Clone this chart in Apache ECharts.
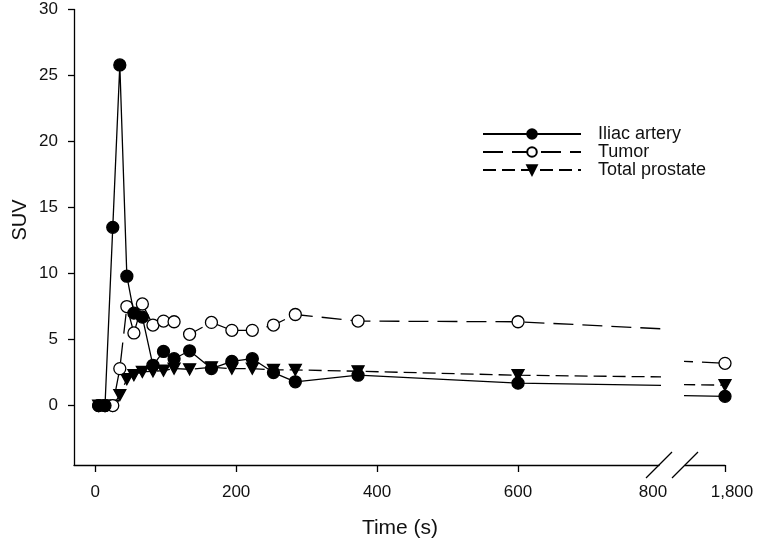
<!DOCTYPE html>
<html><head><meta charset="utf-8">
<script src="https://cdn.jsdelivr.net/npm/echarts@6/dist/echarts.min.js"></script>
<style>html,body{margin:0;padding:0;background:#fff}#c{width:757px;height:543px}</style>
</head><body><div id="c"></div>
<script>
// ---- data ----
const times = [5, 14, 25, 35, 45, 55, 67, 82, 97, 112, 134, 165, 194, 223, 253, 284, 373, 600, 1800];
const iliacArtery = [0, 0, 13.5, 25.8, 9.8, 7.0, 6.7, 3.05, 4.1, 3.55, 4.15, 2.8, 3.35, 3.55, 2.5, 1.8, 2.3, 1.7, 0.7];
const tumor = [0, 0, 0, 2.8, 7.5, 5.5, 7.7, 6.1, 6.4, 6.35, 5.4, 6.3, 5.7, 5.7, 6.1, 6.9, 6.4, 6.35, 3.2];
const totalProstate = [0, 0, 0, 0.8, 2.0, 2.3, 2.55, 2.6, 2.65, 2.8, 2.75, 2.9, 2.8, 2.8, 2.7, 2.7, 2.6, 2.3, 1.55];
const seriesNames = ['Iliac artery', 'Tumor', 'Total prostate'];
const xTickValues = [0, 200, 400, 600];
const xLabelValues = [0, 200, 400, 600, 800];
const xBreakValues = [1800];
const yTickValues = [0, 5, 10, 15, 20, 25, 30];

// ---- layout ----
const FONT = 'Liberation Sans, Arial, sans-serif';
const G = { left: 74, top: 9.5, right: 659, bottom: 465 };
const G2 = { left: 685, right: 725 };
const X_MIN = -30, X_MAX = 800, X2_MIN = 1743, X2_MAX = 1800, Y_MIN = -4.5, Y_MAX = 30;

const chart = echarts.init(document.getElementById('c'), null, { renderer: 'canvas' });
const pairs = v => times.map((t, i) => [t, v[i]]);

const styles = [
  { data: iliacArtery, symbol: 'circle', symbolSize: 12, rotate: 0, fill: '#000', dash: 'solid' },
  { data: tumor, symbol: 'circle', symbolSize: 12, rotate: 0, fill: '#fff', dash: [20, 9] },
  { data: totalProstate, symbol: 'triangle', symbolSize: [12, 11], rotate: 180, fill: '#000', dash: [13, 6] }
];

function mkSeries(gi) {
  return styles.map((s, i) => ({
    type: 'line', name: seriesNames[i], xAxisIndex: gi, yAxisIndex: gi,
    data: pairs(s.data), clip: true,
    symbol: s.symbol, symbolSize: s.symbolSize, symbolRotate: s.rotate, showAllSymbol: true,
    lineStyle: { color: '#000', width: 1.3, type: s.dash },
    itemStyle: { color: s.fill, borderColor: '#000', borderWidth: 1.3 },
    z: 3 - i, animation: false, silent: true
  }));
}

const axisLineStyle = { show: true, onZero: false, lineStyle: { color: '#000', width: 1.3 } };
const labelStyle = { color: '#111', fontSize: 17, fontFamily: FONT };

chart.setOption({
  animation: false,
  backgroundColor: '#fff',
  grid: [
    { left: G.left, top: G.top, width: G.right - G.left, height: G.bottom - G.top },
    { left: G2.left, top: G.top, width: G2.right - G2.left, height: G.bottom - G.top }
  ],
  xAxis: [
    {
      type: 'value', gridIndex: 0, min: X_MIN, max: X_MAX,
      axisLine: axisLineStyle, splitLine: { show: false },
      axisTick: { show: true, inside: false, length: 7, customValues: xTickValues, lineStyle: { color: '#000', width: 1.3 } },
      axisLabel: Object.assign({ margin: 19, customValues: xLabelValues, showMaxLabel: true,
        formatter: v => v === X_MAX ? '{brk|' + v + '}' : String(v),
        rich: { brk: { fontSize: 17, fontFamily: FONT, color: '#111', padding: [0, 12, 0, 0] } } }, labelStyle)
    },
    {
      type: 'value', gridIndex: 1, min: X2_MIN, max: X2_MAX,
      axisLine: axisLineStyle, splitLine: { show: false },
      axisTick: { show: true, inside: false, length: 7, customValues: xBreakValues, lineStyle: { color: '#000', width: 1.3 } },
      axisLabel: Object.assign({ margin: 19, customValues: xBreakValues, showMaxLabel: true,
        formatter: v => v.toLocaleString('en-US'), padding: [0, 0, 0, 14] }, labelStyle)
    }
  ],
  yAxis: [
    {
      type: 'value', gridIndex: 0, min: Y_MIN, max: Y_MAX,
      axisLine: axisLineStyle, splitLine: { show: false },
      axisTick: { show: true, inside: false, length: 6, customValues: yTickValues, lineStyle: { color: '#000', width: 1.3 } },
      axisLabel: Object.assign({ margin: 16, customValues: yTickValues, showMaxLabel: true }, labelStyle)
    },
    {
      type: 'value', gridIndex: 1, min: Y_MIN, max: Y_MAX, show: false
    }
  ],
  legend: {
    orient: 'vertical', left: 477, top: 120,
    itemWidth: 98, itemHeight: 12, itemGap: 0,
    data: seriesNames,
    textStyle: { color: '#111', fontSize: 18, fontFamily: FONT, lineHeight: 18, padding: [0, 0, 0, 12] },
    selectedMode: false
  },
  graphic: [
    { type: 'text', x: 400, y: 528, style: { text: 'Time (s)', fontSize: 21, fontFamily: FONT, fill: '#111', textAlign: 'center', textVerticalAlign: 'middle' } },
    { type: 'text', x: 20, y: 220, rotation: Math.PI / 2, style: { text: 'SUV', fontSize: 20, fontFamily: FONT, fill: '#111', textAlign: 'center', textVerticalAlign: 'middle' } },
    { type: 'line', shape: { x1: G.right - 13, y1: G.bottom + 13, x2: G.right + 13, y2: G.bottom - 13 }, style: { stroke: '#000', lineWidth: 1.3 } },
    { type: 'line', shape: { x1: G2.left - 13, y1: G.bottom + 13, x2: G2.left + 13, y2: G.bottom - 13 }, style: { stroke: '#000', lineWidth: 1.3 } }
  ],
  series: mkSeries(0).concat(mkSeries(1))
});
</script></body></html>
